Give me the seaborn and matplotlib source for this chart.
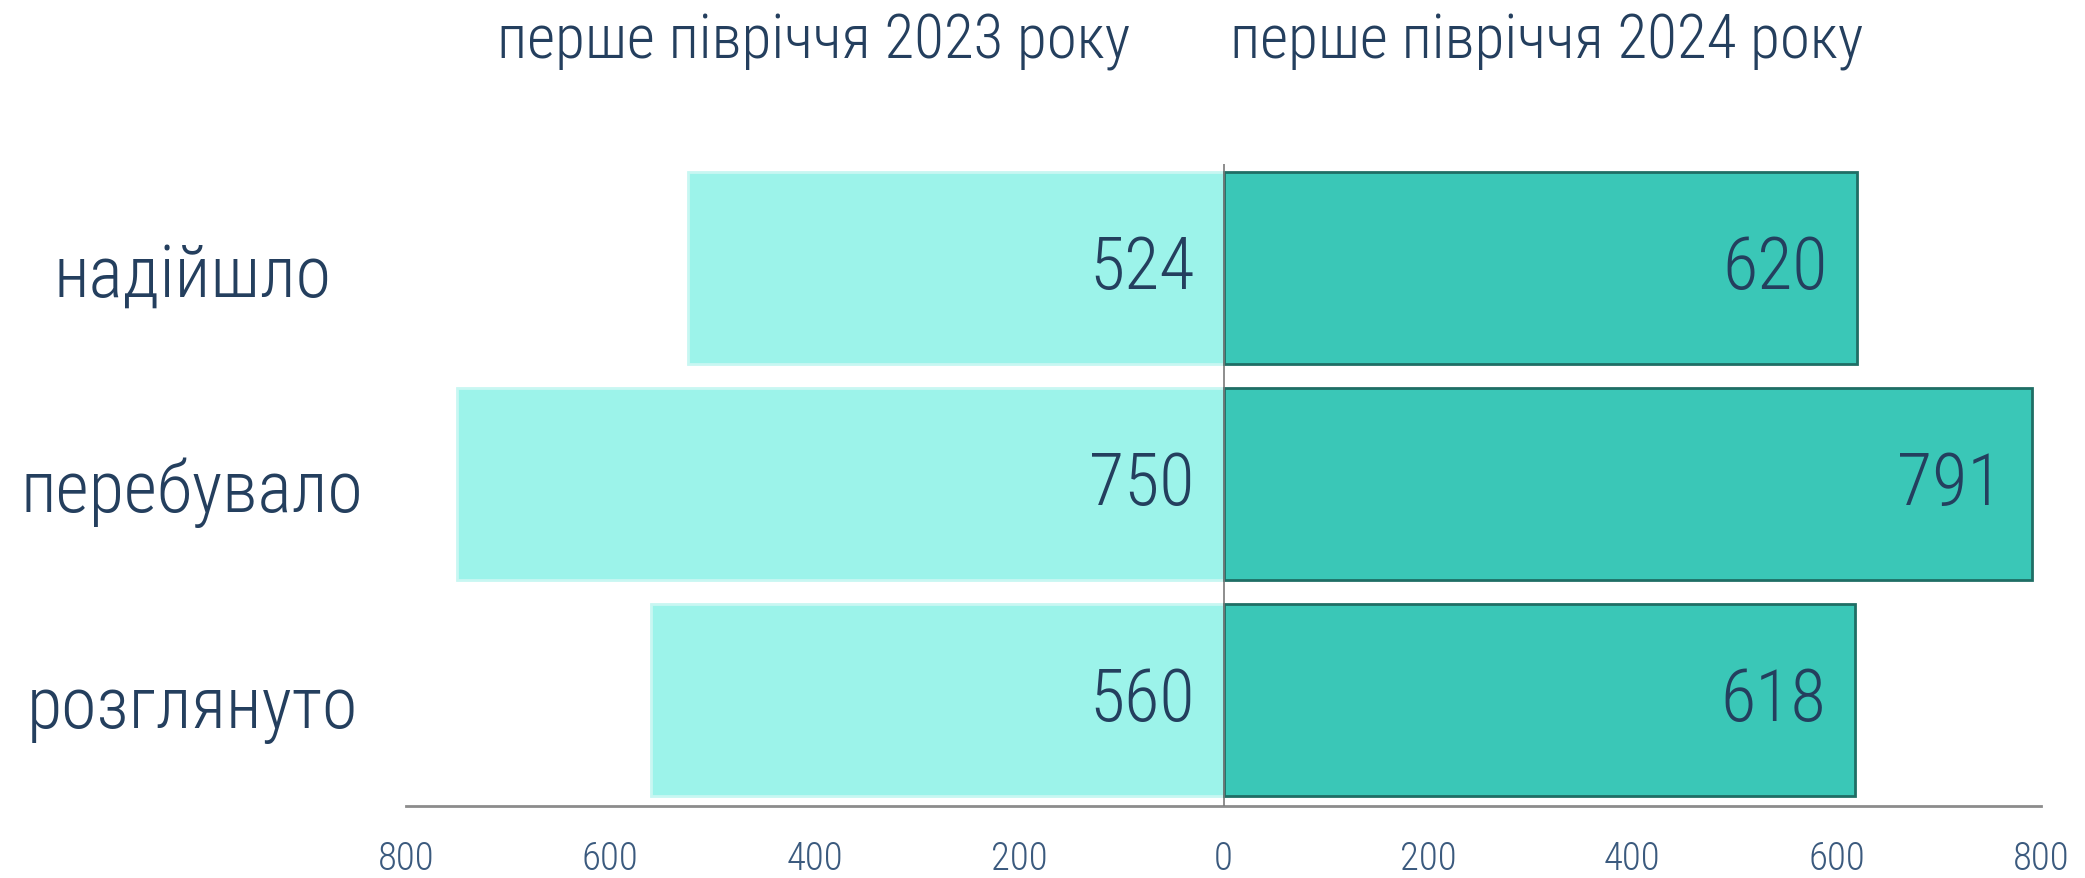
import numpy as np
import pandas as pd
import matplotlib
matplotlib.use('Agg')
import matplotlib.pyplot as plt
from matplotlib import font_manager as fm
import seaborn as sns

# Data
categories = ['надійшло', 'перебувало', 'розглянуто']
values_2023 = [524, 750, 560]
values_2024 = [620, 791, 618]
title_2023 = 'перше півріччя 2023 року'
title_2024 = 'перше півріччя 2024 року'
x_ticks = [-800, -600, -400, -200, 0, 200, 400, 600, 800]


def pick_narrow_font():
    # the reference uses a condensed face; take whatever narrow family is around
    preferred = ['Roboto Condensed', 'Liberation Sans Narrow', 'Noto Sans Condensed',
                 'DejaVu Sans Condensed', 'Open Sans Condensed']
    names = {f.name for f in fm.fontManager.ttflist}
    for name in preferred:
        if name in names:
            return name
    for f in fm.fontManager.ttflist:
        if ('Condensed' in f.name or 'Narrow' in f.name) and f.style == 'normal':
            return f.name
    return 'Roboto'


font_name = pick_narrow_font()

sns.set_style('white')
plt.rcParams['font.family'] = [font_name, 'DejaVu Sans']
plt.rcParams['font.stretch'] = 'condensed'
plt.rcParams['font.weight'] = 'light'

text_color = '#243f5e'
light_color = '#9cf3ea'
dark_color = '#3ac7b7'

df_left = pd.DataFrame({'category': categories, 'value': [-v for v in values_2023]})
df_right = pd.DataFrame({'category': categories, 'value': values_2024})

fig = plt.figure(figsize=(20.85, 8.79), dpi=100)
ax = fig.add_axes([0.1947, 0.082, 0.7843, 0.730])

sns.barplot(data=df_left, x='value', y='category', orient='h', color=light_color,
            width=0.89, edgecolor='#c8f7f2', linewidth=2, saturation=1, ax=ax)
sns.barplot(data=df_right, x='value', y='category', orient='h', color=dark_color,
            width=0.89, edgecolor='#1f6e65', linewidth=2, saturation=1, ax=ax)

ax.set_xlim(-800, 800)
ax.set_ylim(2.49, -0.48)
ax.axvline(0, color='#7a7a7a', linewidth=1.2, zorder=5)

# value labels inside the bars, near their right edges
for i, v in enumerate(values_2023):
    ax.annotate(str(v), xy=(0, i), xytext=(-21, 0), textcoords='offset points',
                ha='right', va='center', fontsize=52, color=text_color)
for i, v in enumerate(values_2024):
    ax.annotate(str(v), xy=(v, i), xytext=(-21, 0), textcoords='offset points',
                ha='right', va='center', fontsize=52, color=text_color)

ax.set_xticks(x_ticks)
ax.set_xticklabels([str(abs(t)) for t in x_ticks], fontsize=28, color='#3b5a7e')
ax.set_yticks(range(len(categories)))
ax.set_yticklabels(categories, fontsize=52, color=text_color, ha='center')
ax.tick_params(axis='y', length=0, pad=154)
ax.tick_params(axis='x', length=0, pad=24)
ax.set_xlabel('')
ax.set_ylabel('')

for side in ['top', 'right', 'left']:
    ax.spines[side].set_visible(False)
ax.spines['bottom'].set_color('#8c8c8c')
ax.spines['bottom'].set_linewidth(2)

fig.text(0.390, 0.952, title_2023, fontsize=44, color=text_color, ha='center', va='center')
fig.text(0.742, 0.952, title_2024, fontsize=44, color=text_color, ha='center', va='center')

fig.savefig('out.png', dpi=100)
